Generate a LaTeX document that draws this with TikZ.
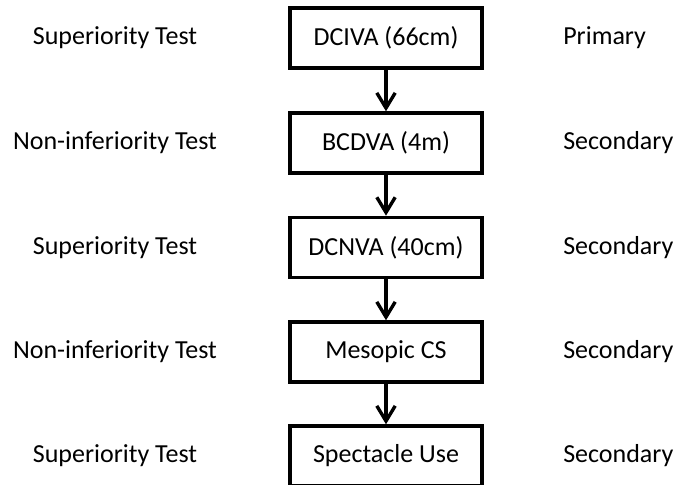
\documentclass[tikz,border=0pt]{standalone}
\usepackage{fontspec}
\setmainfont{Carlito}
\usepackage{tikz}
\usetikzlibrary{arrows.meta}
\usetikzlibrary{positioning}

\begin{document}
\begin{tikzpicture}[
  testbox/.style={rectangle, draw=black, line width=2.4pt, fill=white, minimum height = 1.5cm, minimum width = 4.8cm, font=\fontsize{18.5}{22}\selectfont},
  sidelabel/.style={inner sep=0pt, font=\fontsize{18.5}{22}\selectfont},
  flow/.style={line width=2.4pt, -{Straight Barb[length=3.8mm,width=4.6mm]}}]

\useasboundingbox (0,0) rectangle (16.875,12.125);

\node at (9.65,11.175)[testbox] (dciva) {DCIVA (66cm)};
\node at (9.65,8.55)[testbox] (bcdva) {BCDVA (4m)};
\node at (9.65,5.94)[testbox] (dcnva) {DCNVA (40cm)};
\node at (9.65,3.325)[testbox] (mesopic) {Mesopic CS};
\node at (9.65,0.725)[testbox] (spectacle) {Spectacle Use};

\draw[flow] (dciva) -- (bcdva);
\draw[flow] (bcdva) -- (dcnva);
\draw[flow] (dcnva) -- (mesopic);
\draw[flow] (mesopic) -- (spectacle);

\node at (2.875,11.175)[sidelabel] (test1) {Superiority Test};
\node at (2.875,8.55)[sidelabel] (test2) {Non-inferiority Test};
\node at (2.875,5.94)[sidelabel] (test3) {Superiority Test};
\node at (2.875,3.325)[sidelabel] (test4) {Non-inferiority Test};
\node at (2.875,0.725)[sidelabel] (test5) {Superiority Test};

\node at (14.075,11.175)[sidelabel, anchor=west] (end1) {Primary};
\node at (14.075,8.55)[sidelabel, anchor=west] (end2) {Secondary};
\node at (14.075,5.94)[sidelabel, anchor=west] (end3) {Secondary};
\node at (14.075,3.325)[sidelabel, anchor=west] (end4) {Secondary};
\node at (14.075,0.725)[sidelabel, anchor=west] (end5) {Secondary};

\end{tikzpicture}
\end{document}
